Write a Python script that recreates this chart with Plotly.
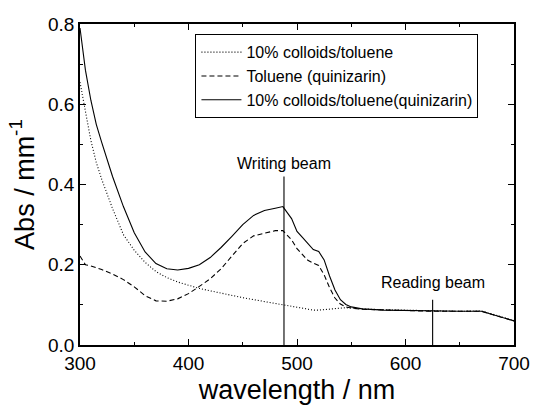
import plotly.graph_objects as go

wavelength = [300, 305, 310, 315, 320, 330, 340, 350, 360, 370, 380, 390, 400, 410, 420,
              430, 440, 450, 460, 470, 480, 487, 495, 500, 505, 510, 515, 520, 525, 530,
              535, 540, 545, 550, 560, 580, 600, 625, 650, 670, 680, 690, 700]

colloids_toluene = [0.655, 0.585, 0.51, 0.455, 0.413, 0.34, 0.275, 0.236, 0.206, 0.183, 0.168,
                    0.157, 0.149, 0.141, 0.135, 0.129, 0.124, 0.118, 0.113, 0.108, 0.104, 0.101,
                    0.097, 0.094, 0.091, 0.088, 0.087, 0.087, 0.088, 0.089, 0.091, 0.092, 0.093,
                    0.092, 0.09, 0.088, 0.087, 0.085, 0.084, 0.085, 0.077, 0.069, 0.061]

toluene_quinizarin = [0.222, 0.2, 0.197, 0.193, 0.188, 0.177, 0.163, 0.145, 0.123, 0.11, 0.109,
                      0.115, 0.128, 0.146, 0.165, 0.19, 0.222, 0.253, 0.272, 0.279, 0.285, 0.285,
                      0.262, 0.24, 0.225, 0.211, 0.204, 0.198, 0.175, 0.143, 0.117, 0.102, 0.095,
                      0.092, 0.089, 0.087, 0.086, 0.084, 0.084, 0.084, 0.076, 0.068, 0.06]

colloids_toluene_quinizarin = [0.79, 0.685, 0.61, 0.55, 0.505, 0.42, 0.345, 0.28, 0.232, 0.203,
                               0.19, 0.187, 0.191, 0.2, 0.218, 0.243, 0.271, 0.3, 0.323, 0.335,
                               0.341, 0.345, 0.315, 0.283, 0.268, 0.252, 0.238, 0.233, 0.212,
                               0.172, 0.137, 0.113, 0.101, 0.095, 0.09, 0.087, 0.086, 0.084,
                               0.084, 0.084, 0.076, 0.068, 0.06]

series_names = ["10% colloids/toluene", "Toluene (quinizarin)",
                "10% colloids/toluene(quinizarin)"]
series_dash = ["1px,2px", "5px,3px", "solid"]

beam_labels = ["Writing beam", "Reading beam"]
beam_wavelength = [488, 625]
beam_top = [0.42, 0.113]
beam_label_y = [0.453, 0.156]

FONT = "Liberation Sans, Arial, sans-serif"

fig = go.Figure()
for name, ys, dash in zip(series_names,
                          [colloids_toluene, toluene_quinizarin, colloids_toluene_quinizarin],
                          series_dash):
    fig.add_trace(go.Scatter(x=wavelength, y=ys, mode="lines", name=name,
                             line=dict(color="black", width=1.1, dash=dash)))

for lbl, wl, top, ly in zip(beam_labels, beam_wavelength, beam_top, beam_label_y):
    fig.add_trace(go.Scatter(x=[wl, wl], y=[0, top], mode="lines", showlegend=False,
                             line=dict(color="black", width=1.1), hoverinfo="skip"))
    fig.add_annotation(x=wl, y=ly, text=lbl, showarrow=False,
                       font=dict(family=FONT, size=16, color="black"))

axis_common = dict(showgrid=False, zeroline=False, showline=True, linecolor="black",
                   linewidth=1.5, mirror="ticks", ticks="inside", ticklen=6, tickwidth=1.2,
                   tickcolor="black", tickfont=dict(family=FONT, size=19, color="black"))

fig.update_xaxes(range=[300, 700], dtick=100, tick0=300,
                 minor=dict(dtick=50, ticks="inside", ticklen=3, tickcolor="black"),
                 title=dict(text="wavelength / nm", font=dict(family=FONT, size=27, color="black"),
                            standoff=8),
                 **axis_common)
fig.update_yaxes(range=[0, 0.8], dtick=0.2, tick0=0, tickformat=".1f",
                 minor=dict(dtick=0.1, ticks="inside", ticklen=3, tickcolor="black"),
                 title=dict(text="Abs / mm<sup>-1</sup>",
                            font=dict(family=FONT, size=27, color="black"), standoff=6),
                 **axis_common)

fig.update_layout(
    width=542, height=412,
    margin=dict(l=80, r=18, t=24, b=63),
    paper_bgcolor="white", plot_bgcolor="white",
    showlegend=True,
    legend=dict(x=0.266, y=0.968, xanchor="left", yanchor="top",
                bordercolor="black", borderwidth=1, bgcolor="white",
                font=dict(family=FONT, size=16, color="black"),
                tracegroupgap=0, itemwidth=40),
)

fig.write_html("out.html")
